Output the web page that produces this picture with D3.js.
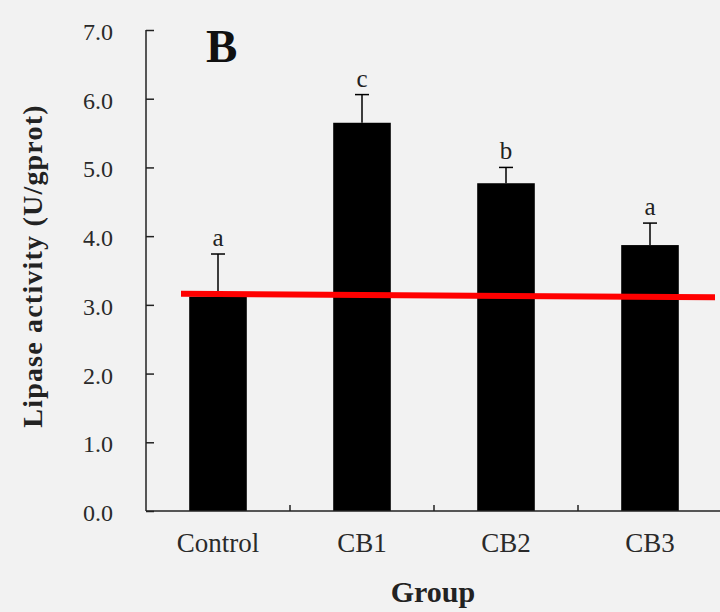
<!DOCTYPE html>
<html><head><meta charset="utf-8">
<script src="https://cdn.jsdelivr.net/npm/d3@7"></script>
<style>body{margin:0;background:#f2f2f2;}svg{display:block;}</style>
</head><body>
<script>
const categories = ["Control", "CB1", "CB2", "CB3"];
const values = [3.12, 5.65, 4.77, 3.87];
const errors = [0.62, 0.41, 0.23, 0.32];
const letters = ["a", "c", "b", "a"];
const yTicks = [0, 1, 2, 3, 4, 5, 6, 7];
const refLine = [3.16, 3.11];
const panelLabel = "B";
const yTitle = "Lipase activity (U/gprot)";
const xTitle = "Group";

const W = 720, H = 612;
const svg = d3.select("body").append("svg").attr("width", W).attr("height", H);
svg.append("rect").attr("width", W).attr("height", H).attr("fill", "#f2f2f2");
const font = "'Liberation Serif', 'Times New Roman', serif";

const x = d3.scaleBand().domain(categories).range([146, 722]).paddingInner(0.6).paddingOuter(0.3);
const y = d3.scaleLinear().domain([0, 7]).range([511, 30]);

// bars
svg.selectAll("rect.bar").data(categories).enter().append("rect")
  .attr("x", d => x(d)).attr("width", x.bandwidth())
  .attr("y", (d, i) => y(values[i])).attr("height", (d, i) => y(0) - y(values[i]))
  .attr("fill", "#000");

// error bars
const cap = 7;
categories.forEach((c, i) => {
  const cx = x(c) + x.bandwidth() / 2;
  const top = y(values[i] + errors[i]);
  svg.append("line").attr("x1", cx).attr("x2", cx).attr("y1", y(values[i])).attr("y2", top)
    .attr("stroke", "#000").attr("stroke-width", 1.5);
  svg.append("line").attr("x1", cx - cap).attr("x2", cx + cap).attr("y1", top).attr("y2", top)
    .attr("stroke", "#000").attr("stroke-width", 1.5);
  svg.append("text").attr("x", cx).attr("y", top - 8).attr("text-anchor", "middle")
    .attr("font-family", font).attr("font-size", 25).attr("fill", "#222").text(letters[i]);
});

// y axis
const yAxis = d3.axisRight(y).tickValues(yTicks).tickSize(8).tickFormat("");
const ya = svg.append("g").attr("transform", "translate(146,0)").call(yAxis);
ya.select(".domain").attr("d", `M0,${y(7)}V${y(0)}`).attr("stroke", "#222").attr("stroke-width", 1.5);
ya.selectAll(".tick line").attr("stroke", "#222").attr("stroke-width", 1.5);
svg.selectAll("text.ytl").data(yTicks).enter().append("text")
  .attr("x", 113).attr("y", d => y(d) + 10).attr("text-anchor", "end")
  .attr("font-family", font).attr("font-size", 24).attr("fill", "#2a2a2a")
  .text(d => d3.format(".1f")(d));

// x axis
svg.append("line").attr("x1", 146).attr("x2", 720).attr("y1", y(0)).attr("y2", y(0))
  .attr("stroke", "#222").attr("stroke-width", 1.5);
const step = x.step();
categories.slice(0, -1).forEach((c, i) => {
  const tx = x(c) + x.bandwidth() / 2 + step / 2;
  svg.append("line").attr("x1", tx).attr("x2", tx).attr("y1", y(0)).attr("y2", y(0) - 6)
    .attr("stroke", "#222").attr("stroke-width", 1.5);
});
svg.selectAll("text.xtl").data(categories).enter().append("text")
  .attr("x", d => x(d) + x.bandwidth() / 2).attr("y", 552).attr("text-anchor", "middle")
  .attr("font-family", font).attr("font-size", 27).attr("fill", "#2a2a2a").text(d => d);

// titles
svg.append("text").attr("x", 433).attr("y", 602).attr("text-anchor", "middle")
  .attr("font-family", font).attr("font-size", 30).attr("font-weight", "bold").attr("fill", "#222").text(xTitle);
svg.append("text").attr("transform", "translate(42,266) rotate(-90)").attr("text-anchor", "middle")
  .attr("font-family", font).attr("font-size", 28).attr("font-weight", "bold").attr("letter-spacing", 1.2)
  .attr("fill", "#222").text(yTitle);
svg.append("text").attr("x", 206).attr("y", 62)
  .attr("font-family", font).attr("font-size", 47).attr("font-weight", "bold").attr("fill", "#111").text(panelLabel);

// red reference line
svg.append("line").attr("x1", 181).attr("x2", 715).attr("y1", y(refLine[0])).attr("y2", y(refLine[1]))
  .attr("stroke", "#ff0000").attr("stroke-width", 6);
</script>
</body></html>
